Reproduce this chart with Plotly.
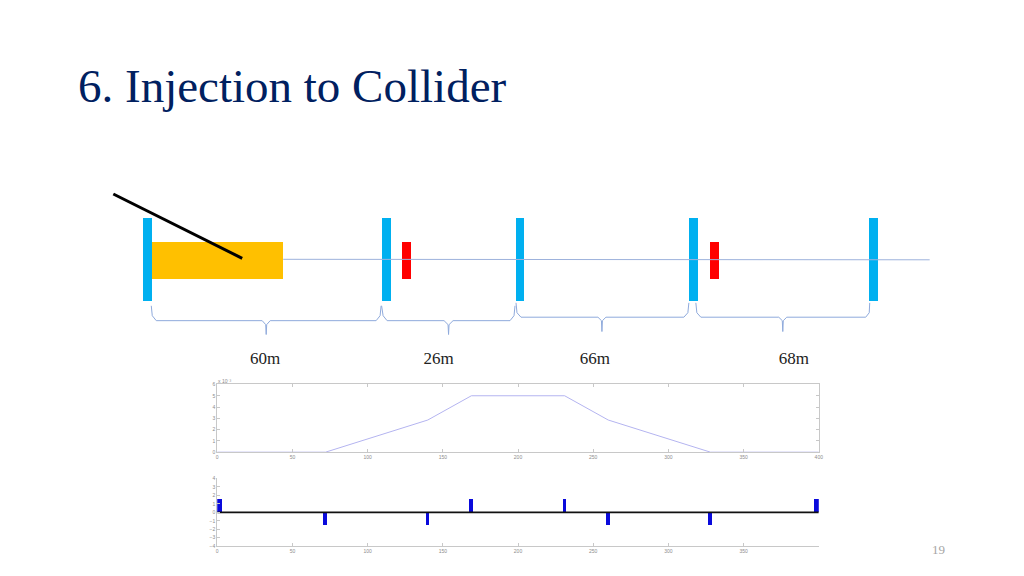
import plotly.graph_objects as go

# Panel data (s in metres)
s_values = [0, 72, 140, 169, 231, 260, 328, 400]
amp_values = [0, 0, 2.85, 5, 5, 2.85, 0, 0]
kick_s = [1.5, 72, 140, 169, 231, 260, 328, 398.5]
kick_h = [1.5, -1.5, -1.5, 1.5, 1.5, -1.5, -1.5, 1.5]
kick_w = [3, 2.4, 2.4, 2.4, 2.4, 2.4, 2.4, 3]
base_s = [0, 400]
base_v = [0, 0]
x_ticks = [0, 50, 100, 150, 200, 250, 300, 350, 400]
x_ticks2 = [0, 50, 100, 150, 200, 250, 300, 350]
y_ticks = [0, 1, 2, 3, 4, 5, 6]
y_ticks2 = [-4, -3, -2, -1, 0, 1, 2, 3, 4]

# Schematic data (page units)
quad_x = [147.5, 386.5, 520, 694, 873.5]
quad_top = [217, 217, 217, 217, 217]
quad_h = [84, 84, 84, 84, 84]
red_x = [406.5, 714.5]
red_top = [242, 242]
red_h = [37, 37]
target_x = [217.5]
target_top = [242]
target_h = [37]
beam_x = [283, 930]
beam_y = [259, 259.5]
inj_x = [113, 242]
inj_y = [193, 258]

brace_a_x = [151, 152, 156, 262, 265.5, 266, 266.5, 270, 376, 380, 381]
brace_a_y = [306, 316, 321, 321, 325, 335, 325, 321, 321, 316, 306]
brace_b_x = [381.5, 383, 387, 444, 448, 448.5, 449, 453, 510, 514, 515]
brace_b_y = [306, 316, 321, 321, 325, 335, 325, 321, 321, 316, 306]
brace_c_x = [516, 517, 521, 598, 601.5, 602, 602.5, 606, 684, 688, 689]
brace_c_y = [303, 313, 317.5, 317.5, 321, 332, 321, 317.5, 317.5, 313, 303]
brace_d_x = [696, 697, 701, 779, 782.5, 783, 783.5, 787, 866, 869.5, 870]
brace_d_y = [303, 313, 317.5, 317.5, 321, 332, 321, 317.5, 317.5, 313, 303]

span_labels = ["60m", "26m", "66m", "68m"]
span_x = [265, 438.5, 595, 794]
span_y = [360, 360, 360, 360]

BLUE = "#00B0F0"
BRACE = "#8FAADC"
AXIS = "#C8C8C8"
TICKTXT = "#8C8C8C"
W, H = 1024, 576

fig = go.Figure()

# Schematic on a page-wide axis
page = dict(xaxis="x3", yaxis="y3", showlegend=False, hoverinfo="skip")
fig.add_trace(go.Scatter(x=beam_x, y=beam_y, mode="lines", line=dict(color="#9DB2DC", width=1), **page))
fig.add_trace(go.Bar(x=target_x, y=target_h, base=target_top, width=131, marker=dict(color="#FFC000", line_width=0), **page))
fig.add_trace(go.Bar(x=quad_x, y=quad_h, base=quad_top, width=9, marker=dict(color=BLUE, line_width=0), **page))
fig.add_trace(go.Bar(x=red_x, y=red_h, base=red_top, width=9, marker=dict(color="#FF0000", line_width=0), **page))
fig.add_trace(go.Scatter(x=inj_x, y=inj_y, mode="lines", line=dict(color="#000000", width=3), **page))
for bx, by in [(brace_a_x, brace_a_y), (brace_b_x, brace_b_y), (brace_c_x, brace_c_y), (brace_d_x, brace_d_y)]:
    fig.add_trace(go.Scatter(x=bx, y=by, mode="lines", line=dict(color=BRACE, width=1), **page))
fig.add_trace(go.Scatter(x=span_x, y=span_y, mode="text", text=span_labels,
                         textfont=dict(family="Liberation Serif", size=17, color="#222222"), **page))

# Envelope panel
fig.add_trace(go.Scatter(x=s_values, y=amp_values, mode="lines", line=dict(color="#B4B4F0", width=1),
                         xaxis="x", yaxis="y", showlegend=False, hoverinfo="skip"))
# Kicker panel
fig.add_trace(go.Bar(x=kick_s, y=kick_h, width=kick_w, marker=dict(color="#0A0ADC", line_width=0),
                     xaxis="x2", yaxis="y2", showlegend=False, hoverinfo="skip"))
fig.add_trace(go.Scatter(x=base_s, y=base_v, mode="lines", line=dict(color="#111111", width=1.6),
                         xaxis="x2", yaxis="y2", showlegend=False, hoverinfo="skip"))

tick = dict(showgrid=False, zeroline=False, ticks="inside", ticklen=3, tickwidth=1, tickcolor=AXIS,
            linecolor=AXIS, linewidth=1, showline=True, tickfont=dict(size=5, color=TICKTXT, family="Liberation Sans"))

X_DOM = [217.3 / W, 821.8 / W]

fig.update_layout(
    width=W, height=H, margin=dict(l=0, r=0, t=0, b=0), paper_bgcolor="white", plot_bgcolor="rgba(0,0,0,0)",
    barmode="overlay", bargap=0,
    xaxis=dict(domain=X_DOM, range=[0, 400], tickvals=x_ticks, anchor="y", mirror="ticks", **tick),
    yaxis=dict(domain=[1 - 453.9 / H, 1 - 385.5 / H], range=[0, 6], tickvals=y_ticks, anchor="x", mirror="ticks", **tick),
    xaxis2=dict(domain=X_DOM, range=[0, 400], tickvals=x_ticks2, anchor="y2", **tick),
    yaxis2=dict(domain=[1 - 548.9 / H, 1 - 480.5 / H], range=[-4, 4], tickvals=y_ticks2, anchor="x2", **tick),
    xaxis3=dict(domain=[0, 1], range=[0.6, 1020.4], visible=False, anchor="y3"),
    yaxis3=dict(domain=[0, 1], range=[H, 0], visible=False, anchor="x3"),
    annotations=[
        dict(text="6. Injection to Collider", xref="paper", yref="paper", x=75 / W, y=1 - 83.5 / H, xanchor="left",
             yanchor="middle", showarrow=False, font=dict(family="Liberation Serif", size=47, color="#002060")),
        dict(text="19", xref="paper", yref="paper", x=942 / W, y=1 - 552 / H, xanchor="center", yanchor="middle",
             showarrow=False, font=dict(family="Liberation Serif", size=13, color="#A6A6A6")),
        dict(text="x 10\u207b\u00b3", xref="paper", yref="paper", x=216 / W, y=1 - 382 / H, xanchor="left",
             yanchor="middle", showarrow=False, font=dict(family="Liberation Sans", size=5, color=TICKTXT)),
    ],
)

fig.write_html(
    "out.html",
    config={"displayModeBar": False},
    post_script="document.body.style.margin='0';document.documentElement.style.overflow='hidden';"
                "document.body.style.overflow='hidden';document.body.style.height='576px';",
)
